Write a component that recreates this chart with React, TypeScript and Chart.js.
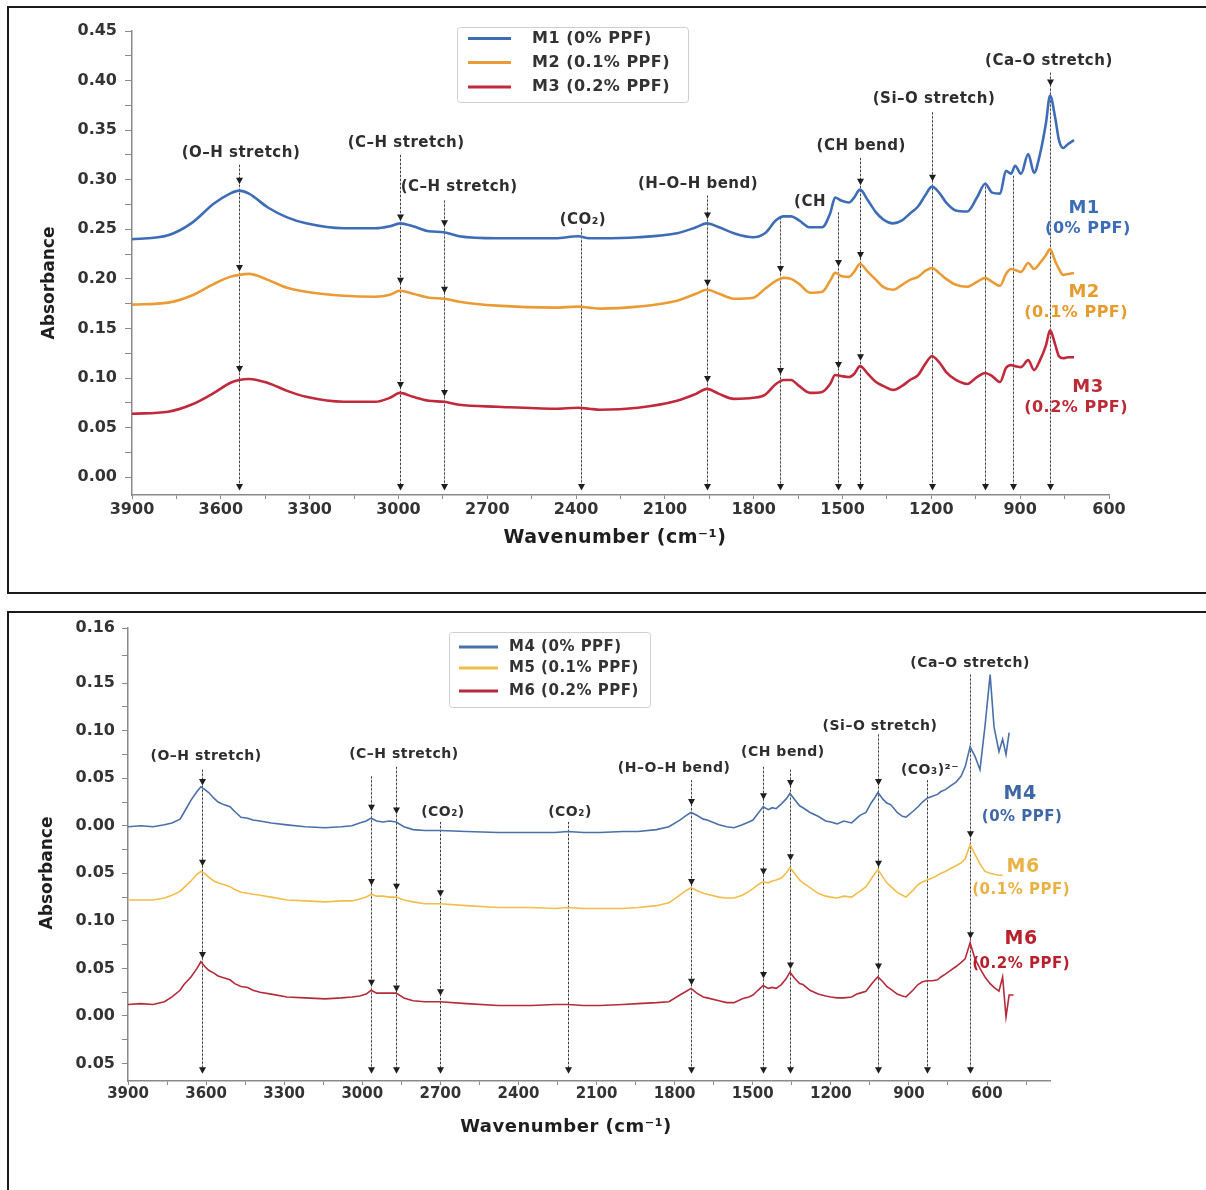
import React, { useEffect, useRef } from "react";
import { Chart, registerables } from "chart.js";

Chart.register(...registerables);

const FONT = '"DejaVu Sans", "Liberation Sans", Arial, sans-serif';
const TEXT = "#2e2e2e";

// ---------------- Panel A (M1–M3) ----------------
const WN_A = [
  3900, 3778, 3700, 3623, 3569, 3538, 3505, 3441, 3376, 3312,
  3184, 3079, 3029, 2995, 2951, 2897, 2846, 2795, 2667, 2471,
  2393, 2356, 2319, 2191, 2059, 1995, 1958, 1917, 1867, 1802,
  1762, 1725, 1698, 1674, 1647, 1610, 1569, 1542, 1525, 1505,
  1478, 1461, 1441, 1414, 1387, 1363, 1329, 1299, 1272, 1245,
  1221, 1198, 1174, 1150, 1117, 1079, 1046, 1018, 995, 968,
  948, 931, 917, 897, 873, 853, 833, 813, 799, 782,
  769, 755, 738, 718,
];
const M1 = [
  0.240, 0.244, 0.256, 0.276, 0.286, 0.289, 0.286, 0.272, 0.262, 0.256,
  0.251, 0.251, 0.253, 0.256, 0.253, 0.248, 0.247, 0.243, 0.241, 0.241,
  0.243, 0.241, 0.241, 0.242, 0.246, 0.252, 0.256, 0.252, 0.246, 0.242,
  0.246, 0.259, 0.263, 0.263, 0.259, 0.252, 0.252, 0.266, 0.282, 0.279,
  0.277, 0.282, 0.290, 0.279, 0.267, 0.260, 0.256, 0.259, 0.266, 0.273,
  0.284, 0.293, 0.287, 0.277, 0.269, 0.268, 0.282, 0.296, 0.287, 0.286,
  0.309, 0.306, 0.314, 0.306, 0.326, 0.307, 0.326, 0.357, 0.385, 0.363,
  0.340, 0.332, 0.336, 0.340,
];
const M2 = [
  0.174, 0.176, 0.183, 0.195, 0.202, 0.204, 0.205, 0.199, 0.191, 0.187,
  0.183, 0.182, 0.184, 0.188, 0.185, 0.181, 0.180, 0.177, 0.173, 0.171,
  0.172, 0.171, 0.170, 0.172, 0.178, 0.185, 0.189, 0.185, 0.180, 0.181,
  0.190, 0.198, 0.201, 0.200, 0.195, 0.186, 0.187, 0.198, 0.206, 0.203,
  0.202, 0.207, 0.215, 0.207, 0.199, 0.192, 0.189, 0.194, 0.199, 0.202,
  0.208, 0.211, 0.206, 0.200, 0.194, 0.192, 0.197, 0.201, 0.197, 0.193,
  0.205, 0.210, 0.209, 0.207, 0.216, 0.210, 0.216, 0.224, 0.230, 0.218,
  0.210, 0.204, 0.205, 0.206,
];
const M3 = [
  0.064, 0.066, 0.073, 0.085, 0.095, 0.098, 0.099, 0.095, 0.087, 0.081,
  0.076, 0.076, 0.080, 0.085, 0.081, 0.077, 0.076, 0.073, 0.071, 0.069,
  0.070, 0.069, 0.068, 0.070, 0.077, 0.084, 0.089, 0.084, 0.079, 0.080,
  0.083, 0.094, 0.098, 0.098, 0.092, 0.085, 0.086, 0.094, 0.103, 0.102,
  0.101, 0.104, 0.112, 0.104, 0.096, 0.092, 0.088, 0.092, 0.098, 0.103,
  0.114, 0.122, 0.116, 0.106, 0.098, 0.094, 0.101, 0.105, 0.102, 0.096,
  0.110, 0.113, 0.112, 0.111, 0.118, 0.108, 0.118, 0.133, 0.148, 0.134,
  0.122, 0.120, 0.121, 0.121,
];
const LABELS_A = ["M1 (0% PPF)", "M2 (0.1% PPF)", "M3 (0.2% PPF)"];
const X_TICKS_A = [3900, 3750, 3600, 3450, 3300, 3150, 3000, 2850, 2700, 2550, 2400, 2250, 2100, 1950, 1800, 1650, 1500, 1350, 1200, 1050, 900, 750, 600];
const Y_TICKS_A = [0, 0.025, 0.05, 0.075, 0.1, 0.125, 0.15, 0.175, 0.2, 0.225, 0.25, 0.275, 0.3, 0.325, 0.35, 0.375, 0.4, 0.425, 0.45];
const Y_LABELS_A = ["0.00", "", "0.05", "", "0.10", "", "0.15", "", "0.20", "", "0.25", "", "0.30", "", "0.35", "", "0.40", "", "0.45"];

const MARK_WN_A = [3538, 2995, 2846, 2383, 1958, 1711, 1515, 1441, 1198, 1018, 924, 799];
const MARK_TOP_A = [0.315, 0.325, 0.279, 0.251, 0.284, 0.262, 0.267, 0.322, 0.368, 0.297, 0.304, 0.408];
const MARK_ARROWS_A = [
  [0.299, 0.211, 0.109], [0.262, 0.198, 0.093], [0.256, 0.189, 0.085], [],
  [0.264, 0.196, 0.099], [0.210, 0.107], [0.216, 0.113], [0.298, 0.224, 0.121],
  [0.302], [], [], [0.398],
];
const NOTE_TEXT_A = ["(O–H stretch)", "(C–H stretch)", "(C–H stretch)", "(CO₂)", "(H–O–H bend)", "(CH", "(CH bend)", "(Si–O stretch)", "(Ca–O stretch)"];
const NOTE_WN_A = [3532, 2974, 2795, 2377, 1988, 1610, 1437, 1191, 803];
const NOTE_Y_A = [0.327, 0.337, 0.293, 0.259, 0.296, 0.277, 0.334, 0.381, 0.420];
const END_TEXT_A = ["M1", "(0% PPF)", "M2", "(0.1% PPF)", "M3", "(0.2% PPF)"];
const END_WN_A = [684, 671, 684, 711, 671, 711];
const END_Y_A = [0.271, 0.250, 0.186, 0.166, 0.091, 0.070];

// ---------------- Panel B (M4–M6) ----------------
const WN_B = [
  3900, 3850, 3804, 3760, 3731, 3700, 3685, 3658, 3635, 3620,
  3605, 3590, 3570, 3554, 3530, 3508, 3490, 3466, 3440, 3420,
  3393, 3350, 3289, 3220, 3143, 3080, 3040, 3010, 2985, 2966,
  2945, 2921, 2895, 2870, 2840, 2805, 2760, 2701, 2600, 2478,
  2350, 2260, 2210, 2150, 2087, 2000, 1941, 1870, 1822, 1780,
  1755, 1737, 1715, 1690, 1675, 1630, 1600, 1572, 1540, 1515,
  1499, 1480, 1460, 1440, 1425, 1410, 1390, 1372, 1357, 1340,
  1320, 1307, 1280, 1249, 1220, 1200, 1176, 1150, 1120, 1100,
  1088, 1065, 1045, 1030, 1019, 1000, 985, 969, 945, 925,
  911, 885, 865, 848, 830, 810, 790, 777, 760, 740,
  719, 700, 684, 665, 646, 627, 608, 588, 573, 554,
  540, 527, 515, 498,
];
const M4 = [
  0.199, 0.200, 0.199, 0.201, 0.203, 0.207, 0.214, 0.227, 0.236, 0.241,
  0.238, 0.235, 0.229, 0.225, 0.222, 0.220, 0.215, 0.209, 0.208, 0.206,
  0.205, 0.203, 0.201, 0.199, 0.198, 0.199, 0.200, 0.203, 0.205, 0.208,
  0.205, 0.204, 0.205, 0.204, 0.199, 0.196, 0.195, 0.195, 0.194, 0.193,
  0.193, 0.193, 0.194, 0.193, 0.193, 0.194, 0.194, 0.196, 0.199, 0.206,
  0.211, 0.214, 0.211, 0.207, 0.206, 0.201, 0.199, 0.198, 0.201, 0.204,
  0.206, 0.213, 0.220, 0.217, 0.219, 0.218, 0.223, 0.228, 0.234, 0.228,
  0.221, 0.219, 0.214, 0.210, 0.205, 0.204, 0.202, 0.205, 0.203, 0.208,
  0.211, 0.214, 0.224, 0.230, 0.235, 0.228, 0.224, 0.222, 0.214, 0.210,
  0.209, 0.215, 0.220, 0.225, 0.229, 0.231, 0.233, 0.236, 0.238, 0.242,
  0.246, 0.252, 0.262, 0.283, 0.273, 0.259, 0.304, 0.359, 0.304, 0.278,
  0.291, 0.275, 0.298, null,
];
const M5 = [
  0.122, 0.122, 0.122, 0.124, 0.127, 0.131, 0.135, 0.142, 0.149, 0.152,
  0.150, 0.146, 0.142, 0.140, 0.138, 0.136, 0.133, 0.130, 0.129, 0.128,
  0.127, 0.125, 0.122, 0.121, 0.120, 0.121, 0.121, 0.123, 0.125, 0.128,
  0.126, 0.126, 0.125, 0.125, 0.122, 0.120, 0.118, 0.118, 0.116, 0.114,
  0.114, 0.113, 0.114, 0.113, 0.113, 0.113, 0.114, 0.116, 0.119, 0.127,
  0.132, 0.135, 0.132, 0.129, 0.128, 0.125, 0.124, 0.124, 0.127, 0.131,
  0.134, 0.138, 0.141, 0.140, 0.142, 0.143, 0.145, 0.150, 0.156, 0.150,
  0.143, 0.140, 0.135, 0.129, 0.126, 0.125, 0.124, 0.126, 0.125, 0.129,
  0.131, 0.136, 0.144, 0.150, 0.154, 0.146, 0.140, 0.136, 0.130, 0.127,
  0.125, 0.132, 0.138, 0.141, 0.143, 0.145, 0.148, 0.150, 0.152, 0.155,
  0.158, 0.161, 0.165, 0.180, 0.170, 0.160, 0.152, 0.150, 0.149, 0.148,
  0.148, null, null, null,
];
const M6 = [
  0.012, 0.013, 0.012, 0.015, 0.020, 0.027, 0.033, 0.041, 0.050, 0.057,
  0.052, 0.048, 0.045, 0.042, 0.040, 0.038, 0.034, 0.031, 0.030, 0.027,
  0.025, 0.023, 0.020, 0.019, 0.018, 0.019, 0.020, 0.021, 0.023, 0.027,
  0.024, 0.024, 0.024, 0.024, 0.019, 0.016, 0.015, 0.015, 0.013, 0.011,
  0.011, 0.012, 0.012, 0.011, 0.011, 0.012, 0.013, 0.014, 0.015, 0.022,
  0.026, 0.029, 0.024, 0.020, 0.019, 0.016, 0.014, 0.014, 0.018, 0.020,
  0.022, 0.027, 0.032, 0.029, 0.030, 0.029, 0.033, 0.039, 0.046, 0.040,
  0.034, 0.033, 0.027, 0.023, 0.021, 0.020, 0.019, 0.019, 0.020, 0.023,
  0.024, 0.026, 0.033, 0.038, 0.041, 0.036, 0.031, 0.028, 0.023, 0.021,
  0.020, 0.027, 0.033, 0.036, 0.037, 0.037, 0.038, 0.041, 0.044, 0.048,
  0.052, 0.056, 0.060, 0.077, 0.060, 0.050, 0.041, 0.034, 0.030, 0.026,
  0.041, -0.001, 0.022, 0.022,
];
const LABELS_B = ["M4 (0% PPF)", "M5 (0.1% PPF)", "M6 (0.2% PPF)"];
const X_TICKS_B = [3900, 3750, 3600, 3450, 3300, 3150, 3000, 2850, 2700, 2550, 2400, 2250, 2100, 1950, 1800, 1650, 1500, 1350, 1200, 1050, 900, 750, 600, 450];
const Y_TICKS_B = [-0.05, -0.025, 0, 0.025, 0.05, 0.075, 0.1, 0.125, 0.15, 0.175, 0.2, 0.225, 0.25, 0.275, 0.3, 0.325, 0.35, 0.379, 0.408];
const Y_LABELS_B = ["0.05", "", "0.00", "", "0.05", "", "0.10", "", "0.05", "", "0.00", "", "0.05", "", "0.10", "", "0.15", "", "0.16"];

const MARK_WN_B = [3616, 2966, 2870, 2701, 2210, 1737, 1460, 1357, 1019, 830, 665];
const MARK_TOP_B = [0.259, 0.252, 0.262, 0.204, 0.204, 0.248, 0.262, 0.259, 0.296, 0.248, 0.359];
const MARK_ARROWS_B = [
  [0.246, 0.161, 0.064], [0.219, 0.141, 0.035], [0.216, 0.136, 0.029], [0.129, 0.025], [],
  [0.225, 0.141, 0.036], [0.231, 0.152, 0.043], [0.245, 0.167, 0.053], [0.246, 0.160, 0.052], [],
  [0.191, 0.085],
];
const NOTE_TEXT_B = ["(O–H stretch)", "(C–H stretch)", "(CO₂)", "(CO₂)", "(H–O–H bend)", "(CH bend)", "(Si–O stretch)", "(CO₃)²⁻", "(Ca–O stretch)"];
const NOTE_WN_B = [3600, 2840, 2690, 2202, 1802, 1384, 1011, 819, 665];
const NOTE_Y_B = [0.273, 0.275, 0.214, 0.214, 0.260, 0.277, 0.305, 0.258, 0.371];
const END_TEXT_B = ["M4", "(0% PPF)", "M6", "(0.1% PPF)", "M6", "(0.2% PPF)"];
const END_WN_B = [473, 465, 461, 469, 469, 469];
const END_Y_B = [0.233, 0.209, 0.157, 0.132, 0.081, 0.055];

// ---------------- layout / style specs ----------------
const SPEC_A = {
  wn: WN_A, series: [M1, M2, M3], labels: LABELS_A,
  colors: ["#3E6DB5", "#EB9B35", "#C12A3C"], lineWidth: 2.6, smooth: true,
  xMin: 600, xMax: 3900, xTicks: X_TICKS_A, yMin: -0.018, yMax: 0.45, yTicks: Y_TICKS_A, yLabels: Y_LABELS_A,
  padRight: 97, padTop: 31, yAxisWidth: 132, xAxisHeight: 105,
  xTickSize: 16, yTickSize: 16, yTickLen: 7, yTickPad: 8, xTickLen: 4, xTickPad: 1,
  markWn: MARK_WN_A, markTop: MARK_TOP_A, markArrows: MARK_ARROWS_A, arrowBase: -0.010,
  noteText: NOTE_TEXT_A, noteWn: NOTE_WN_A, noteY: NOTE_Y_A, noteSize: 15,
  endText: END_TEXT_A, endWn: END_WN_A, endY: END_Y_A, endSizes: [18, 16, 18, 16, 18, 16],
  endColors: ["#3C6EB6", "#E59B2E", "#BB2B37"],
  legend: { x: 457, y: 27, w: 231, h: 75, s1: 468, s2: 511, tx: 532, rows: [38.5, 62.5, 87], size: 16 },
  yTitle: { x: 50, y: 283, size: 17 }, xTitle: { x: 615, y: 538, size: 19 },
};

const SPEC_B = {
  wn: WN_B, series: [M4, M5, M6], labels: LABELS_B,
  colors: ["#4A70A8", "#F2BD4A", "#B52B3B"], lineWidth: 1.6, smooth: false,
  xMin: 358, xMax: 3900, xTicks: X_TICKS_B, yMin: -0.0684, yMax: 0.408, yTicks: Y_TICKS_B, yLabels: Y_LABELS_B,
  padRight: 156, padTop: 28, yAxisWidth: 128, xAxisHeight: 109,
  xTickSize: 15, yTickSize: 16, yTickLen: 6, yTickPad: 7, xTickLen: 4, xTickPad: 0,
  markWn: MARK_WN_B, markTop: MARK_TOP_B, markArrows: MARK_ARROWS_B, arrowBase: -0.057,
  noteText: NOTE_TEXT_B, noteWn: NOTE_WN_B, noteY: NOTE_Y_B, noteSize: 14,
  endText: END_TEXT_B, endWn: END_WN_B, endY: END_Y_B, endSizes: [19, 15, 19, 15, 19, 15],
  endColors: ["#3F67A8", "#E8B245", "#B8202E"],
  legend: { x: 449, y: 32, w: 201, h: 75, s1: 459, s2: 498, tx: 509, rows: [47, 68, 91], size: 15 },
  yTitle: { x: 48, y: 273, size: 17 }, xTitle: { x: 566, y: 527, size: 18 },
};

function drawText(ctx: any, s: string, x: number, y: number, size: number, color: string, opts: any = {}) {
  ctx.save();
  ctx.font = `bold ${size}px ${FONT}`;
  ctx.fillStyle = color;
  ctx.textAlign = opts.align || "center";
  ctx.textBaseline = "middle";
  try { ctx.letterSpacing = `${opts.spacing ?? 0}px`; } catch (e) {}
  if (opts.rotate) {
    ctx.translate(x, y);
    ctx.rotate(opts.rotate);
    ctx.fillText(s, 0, 0);
  } else {
    ctx.fillText(s, x, y);
  }
  ctx.restore();
}

function arrowHead(ctx: any, x: number, y: number) {
  ctx.save();
  ctx.fillStyle = "#1e1e1e";
  ctx.beginPath();
  ctx.moveTo(x - 3.5, y - 3);
  ctx.lineTo(x + 3.5, y - 3);
  ctx.lineTo(x, y + 3.5);
  ctx.closePath();
  ctx.fill();
  ctx.restore();
}

function makeDecor(spec: any) {
  return {
    id: "decor",
    beforeDatasetsDraw(chart: any) {
      const ctx = chart.ctx;
      const xs = chart.scales.x;
      const ys = chart.scales.y;
      spec.markWn.forEach((wn: number, i: number) => {
        const px = Math.round(xs.getPixelForValue(wn)) + 0.5;
        const y1 = ys.getPixelForValue(spec.markTop[i]);
        const y2 = ys.getPixelForValue(spec.arrowBase);
        ctx.save();
        ctx.lineWidth = 1;
        ctx.strokeStyle = "rgba(140,140,140,0.45)";
        ctx.beginPath(); ctx.moveTo(px, y1); ctx.lineTo(px, y2); ctx.stroke();
        ctx.setLineDash([2, 2]);
        ctx.strokeStyle = "#3a3a3a";
        ctx.beginPath(); ctx.moveTo(px, y1); ctx.lineTo(px, y2); ctx.stroke();
        ctx.restore();
      });
      spec.noteText.forEach((t: string, i: number) => {
        drawText(ctx, t, xs.getPixelForValue(spec.noteWn[i]), ys.getPixelForValue(spec.noteY[i]), spec.noteSize, TEXT, { spacing: 0.5 });
      });
    },
    afterDatasetsDraw(chart: any) {
      const ctx = chart.ctx;
      const xs = chart.scales.x;
      const ys = chart.scales.y;
      spec.markWn.forEach((wn: number, i: number) => {
        const px = Math.round(xs.getPixelForValue(wn)) + 0.5;
        spec.markArrows[i].forEach((v: number) => arrowHead(ctx, px, ys.getPixelForValue(v)));
        arrowHead(ctx, px, ys.getPixelForValue(spec.arrowBase));
      });
      spec.endText.forEach((t: string, i: number) => {
        drawText(ctx, t, xs.getPixelForValue(spec.endWn[i]), ys.getPixelForValue(spec.endY[i]), spec.endSizes[i], spec.endColors[Math.floor(i / 2)], { spacing: 0.5 });
      });
      // legend
      const L = spec.legend;
      ctx.save();
      ctx.fillStyle = "rgba(255,255,255,0.95)";
      ctx.strokeStyle = "#cfcfcf";
      ctx.lineWidth = 1;
      ctx.beginPath();
      if (ctx.roundRect) ctx.roundRect(L.x + 0.5, L.y + 0.5, L.w, L.h, 3); else ctx.rect(L.x + 0.5, L.y + 0.5, L.w, L.h);
      ctx.fill();
      ctx.stroke();
      ctx.restore();
      chart.data.datasets.forEach((ds: any, i: number) => {
        const y = L.rows[i];
        ctx.save();
        ctx.strokeStyle = ds.borderColor;
        ctx.lineWidth = 3;
        ctx.beginPath(); ctx.moveTo(L.s1, y); ctx.lineTo(L.s2, y); ctx.stroke();
        ctx.restore();
        drawText(ctx, ds.label, L.tx, y, L.size, "#333", { align: "left", spacing: 0.5 });
      });
      // axis titles
      drawText(ctx, "Absorbance", spec.yTitle.x, spec.yTitle.y, spec.yTitle.size, "#1e1e1e", { rotate: -Math.PI / 2 });
      drawText(ctx, "Wavenumber (cm⁻¹)", spec.xTitle.x, spec.xTitle.y, spec.xTitle.size, "#1e1e1e", { spacing: 0.5 });
    },
  };
}

function buildConfig(spec: any) {
  return {
    type: "line",
    data: {
      datasets: spec.series.map((vals: (number | null)[], i: number) => ({
        label: spec.labels[i],
        data: spec.wn.map((x: number, j: number) => ({ x, y: vals[j] })),
        borderColor: spec.colors[i],
        backgroundColor: spec.colors[i],
        borderWidth: spec.lineWidth,
        pointRadius: 0,
        fill: false,
        spanGaps: false,
        tension: spec.smooth ? 0.4 : 0,
        cubicInterpolationMode: spec.smooth ? "monotone" : "default",
      })),
    },
    options: {
      responsive: false,
      animation: false,
      devicePixelRatio: 1,
      events: [],
      layout: { padding: { left: 0, right: spec.padRight, top: spec.padTop, bottom: 0 } },
      plugins: { legend: { display: false }, tooltip: { enabled: false }, title: { display: false } },
      scales: {
        x: {
          type: "linear",
          reverse: true,
          min: spec.xMin,
          max: spec.xMax,
          afterBuildTicks: (s: any) => { s.ticks = spec.xTicks.map((v: number) => ({ value: v })); },
          afterFit: (s: any) => { s.height = spec.xAxisHeight; },
          ticks: {
            autoSkip: false,
            maxRotation: 0,
            padding: spec.xTickPad,
            color: "#333",
            font: { family: FONT, size: spec.xTickSize, weight: "bold" },
            callback: (v: number) => (v % 300 === 0 && v >= 600 ? String(v) : ""),
          },
          grid: { drawOnChartArea: false, drawTicks: true, tickLength: spec.xTickLen, color: "#8a8a8a", tickColor: "#8a8a8a" },
          border: { display: true, color: "#8a8a8a", width: 1.5 },
        },
        y: {
          type: "linear",
          min: spec.yMin,
          max: spec.yMax,
          afterBuildTicks: (s: any) => { s.ticks = spec.yTicks.map((v: number) => ({ value: v })); },
          afterFit: (s: any) => { s.width = spec.yAxisWidth; },
          ticks: {
            autoSkip: false,
            padding: spec.yTickPad,
            color: "#333",
            font: { family: FONT, size: spec.yTickSize, weight: "bold" },
            callback: (_v: number, i: number) => spec.yLabels[i] ?? "",
          },
          grid: { drawOnChartArea: false, drawTicks: true, tickLength: spec.yTickLen, color: "#8a8a8a", tickColor: "#8a8a8a" },
          border: { display: true, color: "#8a8a8a", width: 1.5 },
        },
      },
    },
    plugins: [makeDecor(spec)],
  };
}

function PanelChart({ spec, top, height }: { spec: any; top: number; height: number }) {
  const ref = useRef<HTMLCanvasElement>(null);
  useEffect(() => {
    if (!ref.current) return;
    const chart = new Chart(ref.current, buildConfig(spec) as any);
    return () => chart.destroy();
  }, [spec]);
  return (
    <canvas
      ref={ref}
      width={1206}
      height={height}
      style={{ position: "absolute", left: 0, top, width: 1206, height, display: "block" }}
    />
  );
}

export default function App() {
  return (
    <div style={{ position: "absolute", left: 0, top: 0, width: 1206, height: 1190, overflow: "hidden", background: "#fff" }}>
      <div style={{ position: "absolute", left: 7, top: 6, width: 1240, height: 588, border: "2px solid #1b1b1b", boxSizing: "border-box" }} />
      <div style={{ position: "absolute", left: 7, top: 611, width: 1240, height: 700, border: "2px solid #1b1b1b", boxSizing: "border-box" }} />
      <PanelChart spec={SPEC_A} top={0} height={600} />
      <PanelChart spec={SPEC_B} top={600} height={590} />
    </div>
  );
}
